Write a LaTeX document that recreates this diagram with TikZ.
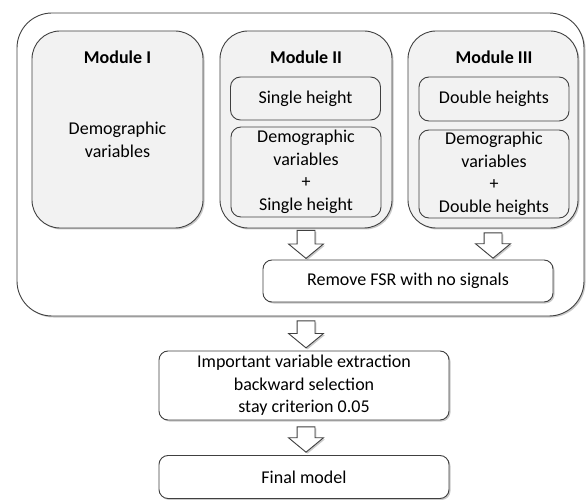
\documentclass[tikz,border=0pt]{standalone}
\usepackage{fontspec}
\setmainfont{Carlito}
\usetikzlibrary{positioning,shapes.arrows,shadows}
\newcommand\diagfont{\fontsize{18}{22.5}\selectfont}
\tikzset{
  softshadow/.style={drop shadow={shadow xshift=1.5pt,shadow yshift=-1.5pt,opacity=0.35,fill=black!60}},
  modulebox/.style={draw=black!75,line width=0.9pt,rounded corners=28pt,fill=black!5,softshadow,
    minimum height=197pt,inner sep=0pt},
  subbox/.style={draw=black!75,line width=0.9pt,rounded corners=10pt,fill=black!5,
    minimum width=150pt,inner sep=0pt,align=center},
  stepbox/.style={draw=black!75,line width=0.9pt,rounded corners=9pt,fill=white,softshadow,
    minimum width=290pt,inner sep=0pt,align=center},
  title/.style={font=\diagfont\bfseries},
  blockarrow/.style={single arrow,draw=black!75,line width=0.9pt,fill=white,softshadow,
    shape border rotate=270,inner sep=8.5pt,single arrow head extend=8.5pt,
    single arrow tip angle=101,anchor=tail}
}
\begin{document}
\begin{tikzpicture}[x=1pt,y=-1pt,font=\diagfont]
  \useasboundingbox (0,0) rectangle (587,500);
  % outer frame
  \node[draw=black!75,line width=0.9pt,rounded corners=35pt,fill=white,softshadow,
    minimum width=567pt,minimum height=303pt] (outer) at (300.5,164.5) {};
  % modules
  \node[modulebox,minimum width=171pt] (m1) at (117.5,129.5) {};
  \node[modulebox,minimum width=172pt] (m2) at (306,129.5) {};
  \node[modulebox,minimum width=170pt] (m3) at (493,129.5) {};
  \node[title] (t1) at (117.5,57) {Module I};
  \node[title] (t2) at (306,57) {Module II};
  \node[title] (t3) at (494,57) {Module III};
  \node[align=center] (v1) at (117.5,140) {Demographic\\variables};
  \node[subbox,minimum height=43pt] (s2) at (305.5,98.5) {Single height};
  \node[subbox,minimum height=90pt] (d2) at (306,172) {Demographic\\variables\\+\\Single height};
  \node[subbox,minimum height=44pt] (s3) at (494,99) {Double heights};
  \node[subbox,minimum height=88pt] (d3) at (494,174) {Demographic\\variables\\+\\Double heights};
  % steps
  \node[stepbox,minimum height=42pt] (fsr) at (408,281) {Remove FSR with no signals};
  \node[stepbox,minimum height=69pt] (imp) at (304,385.5)
    {Important variable extraction\\backward selection\\stay criterion 0.05};
  \node[stepbox,minimum height=43pt] (fin) at (304,477) {Final model};
  % block arrows
  \node[blockarrow,minimum height=28pt] (a1) at ([yshift=-1.5pt]m2.south) {};
  \node[blockarrow,minimum height=24pt] (a2) at ([yshift=-4pt]m3.south) {};
  \node[blockarrow,minimum height=27pt] (a3) at ([yshift=-4pt]outer.south -| a1) {};
  \node[blockarrow,minimum height=23pt] (a4) at ([yshift=-6pt]imp.south -| a1) {};
\end{tikzpicture}
\end{document}
